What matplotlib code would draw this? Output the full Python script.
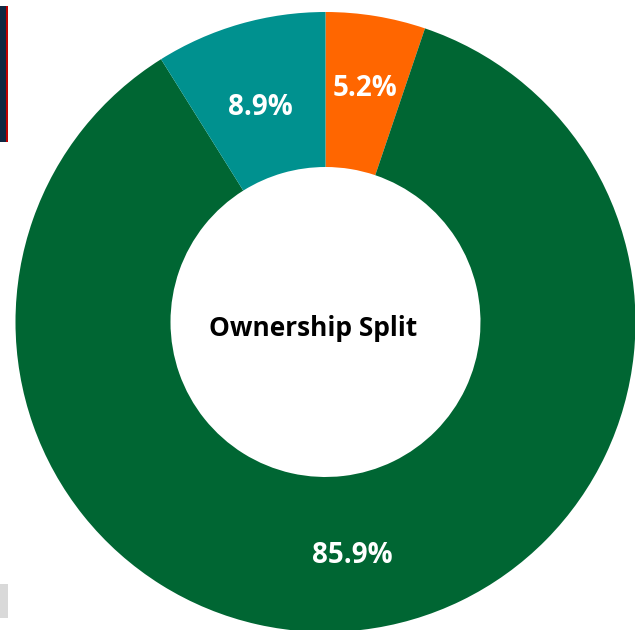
import matplotlib
matplotlib.use("Agg")
import matplotlib.pyplot as plt
from matplotlib.patches import Rectangle

labels = ["Orange", "Green", "Teal"]
shares = [5.2, 85.9, 8.9]
colors = ["#FF6600", "#006633", "#00918F"]
center_title = "Ownership Split"

W, H = 635, 630
fig = plt.figure(figsize=(W / 100, H / 100), dpi=100)
fig.patch.set_facecolor("white")

# left edge decorations (figure pixel coords)
fig.patches.append(Rectangle((0 / W, 1 - 142 / H), 6 / W, 136 / H, transform=fig.transFigure,
                             facecolor="#0F2742", edgecolor="none"))
fig.patches.append(Rectangle((6 / W, 1 - 142 / H), 2 / W, 136 / H, transform=fig.transFigure,
                             facecolor="#C00000", edgecolor="none"))
fig.patches.append(Rectangle((0 / W, 1 - 618 / H), 8 / W, 34 / H, transform=fig.transFigure,
                             facecolor="#D9D9D9", edgecolor="none"))

ax = fig.add_axes([0, 0, 1, 1])
cx, cy = 325.5, 322
R = 310
r_in = 155

wedges, texts, autotexts = ax.pie(
    shares, colors=colors, startangle=90, counterclock=False,
    radius=R, center=(0, 0), frame=True,
    wedgeprops=dict(width=R - r_in, edgecolor="none"),
    autopct=lambda p: f"{p:.1f}%", pctdistance=0.75,
    textprops=dict(color="white", fontsize=20, fontweight="bold", family="Open Sans"),
)
# small label nudges (pixels) to match original placement
nudges = [(2, 4), (0, -3), (-1, -9)]
for t, (dx, dy) in zip(autotexts, nudges):
    x, y = t.get_position()
    t.set_position((x + dx, y + dy))

ax.set_xlim(-cx, W - cx)
ax.set_ylim(-(H - cy), cy)
ax.set_aspect("equal")
ax.axis("off")

ax.text(-12, -6, center_title, ha="center", va="center", fontsize=19,
        fontweight="bold", family="Open Sans", color="black")

fig.savefig("out.png", dpi=100, facecolor="white")
